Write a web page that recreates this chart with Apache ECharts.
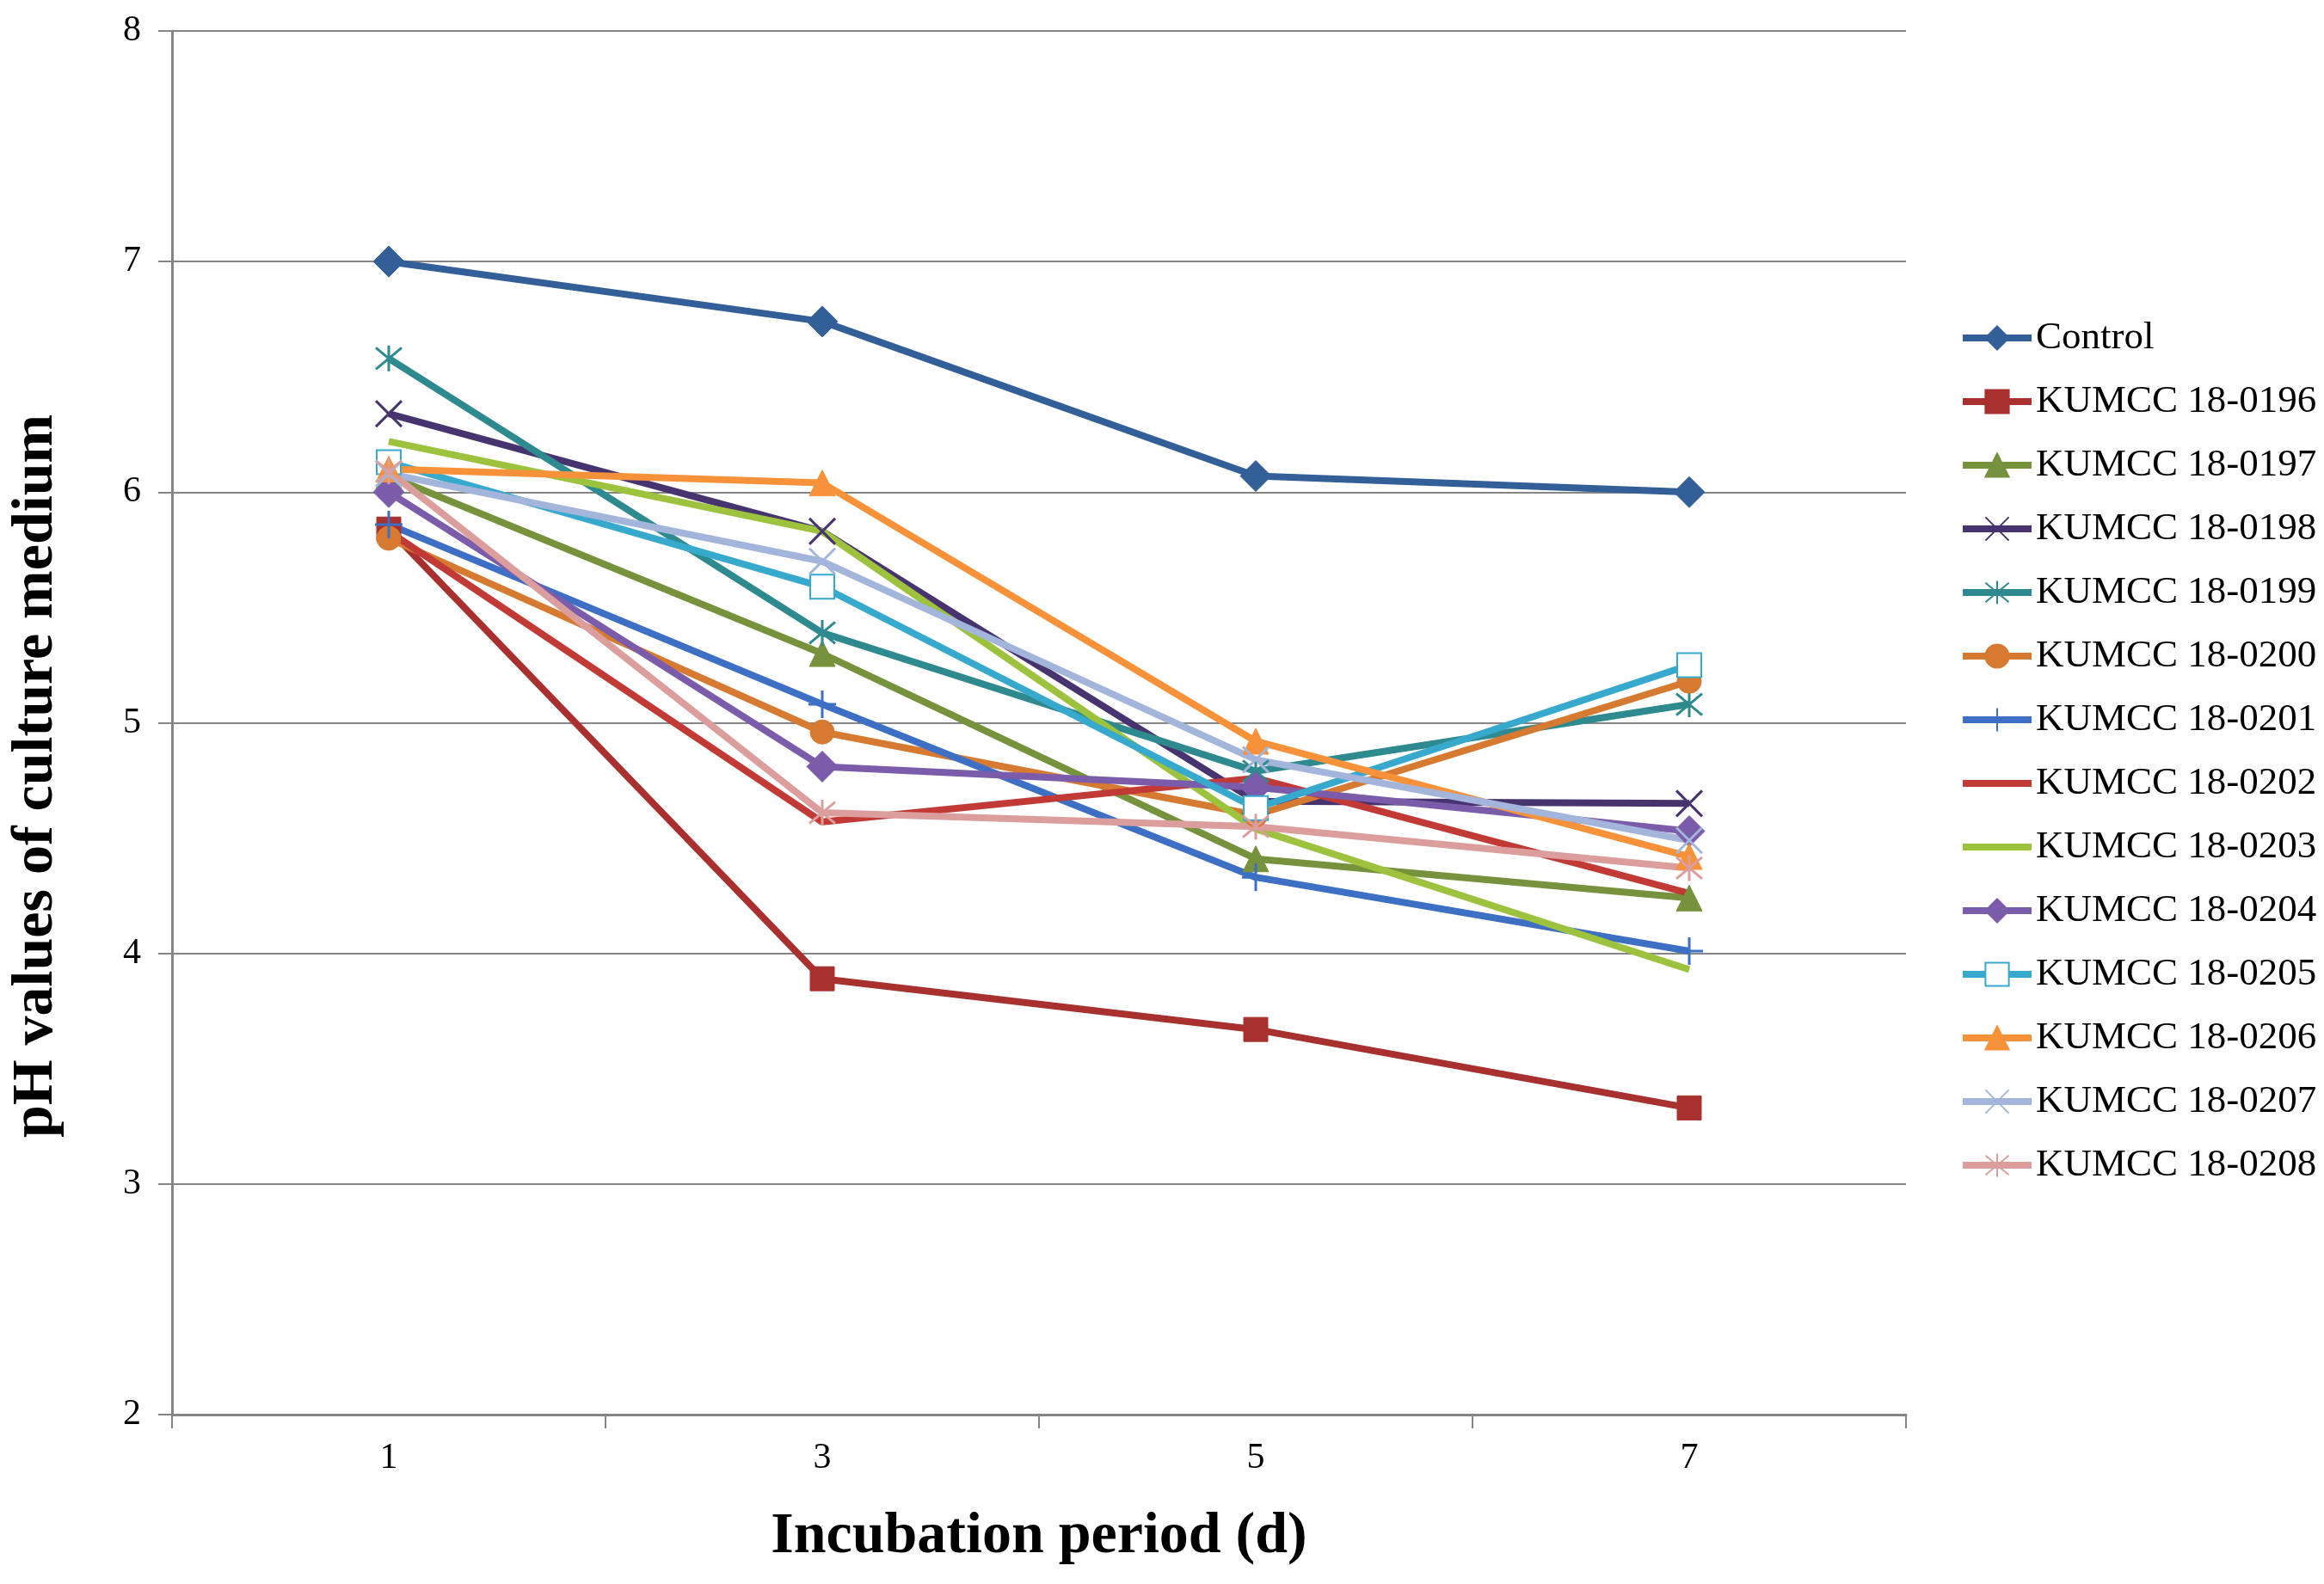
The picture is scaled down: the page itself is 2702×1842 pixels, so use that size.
<!DOCTYPE html>
<html>
<head>
<meta charset="utf-8">
<title>pH values of culture medium</title>
<script src="https://cdn.jsdelivr.net/npm/echarts@6/dist/echarts.min.js"></script>
<style>
  html, body { margin: 0; padding: 0; background: #fff; }
  #chart { width: 2702px; height: 1842px; }
</style>
</head>
<body>
<div id="chart"></div>
<script>
// x categories (incubation day)
var days = ['1', '3', '5', '7'];

// pH readings per strain
var control = [7.00, 6.74, 6.07, 6.00];
var k0196 = [5.84, 3.89, 3.67, 3.33];
var k0197 = [6.07, 5.30, 4.41, 4.24];
var k0198 = [6.34, 5.83, 4.66, 4.65];
var k0199 = [6.58, 5.39, 4.79, 5.08];
var k0200 = [5.80, 4.96, 4.60, 5.18];
var k0201 = [5.86, 5.08, 4.33, 4.01];
var k0202 = [5.83, 4.57, 4.76, 4.26];
var k0203 = [6.22, 5.83, 4.54, 3.93];
var k0204 = [6.00, 4.81, 4.72, 4.53];
var k0205 = [6.13, 5.59, 4.63, 5.25];
var k0206 = [6.10, 6.04, 4.92, 4.42];
var k0207 = [6.08, 5.70, 4.84, 4.49];
var k0208 = [6.09, 4.61, 4.55, 4.37];

// marker shapes drawn as strokes
var xMark = 'path://M0,0L10,10M10,0L0,10';
var starMark = 'path://M0,0L10,10M10,0L0,10M5,-1L5,11';
var plusMark = 'path://M5,0L5,10M0,5L10,5';
// invisible marker, so the legend shows only a line
var noMark = 'rect';

var serif = 'Liberation Serif';

function line(name, data, color, symbol, size, stroke, hidden) {
    return {
        name: name,
        type: 'line',
        data: data,
        symbol: symbol,
        symbolSize: size,
        showSymbol: !hidden,
        lineStyle: { color: color, width: 8 },
        itemStyle: {
            color: (stroke || hidden) ? 'rgba(0,0,0,0)' : color,
            borderColor: hidden ? 'rgba(0,0,0,0)' : color,
            borderWidth: stroke ? 3 : (hidden ? 0 : 1)
        },
        emphasis: { disabled: true },
        animation: false
    };
}

var seriesList = [
    line('Control', control, '#335F99', 'diamond', 36),
    line('KUMCC 18-0196', k0196, '#A8302F', 'rect', 28),
    line('KUMCC 18-0197', k0197, '#76923C', 'triangle', 30),
    line('KUMCC 18-0198', k0198, '#47336E', xMark, 30, true),
    line('KUMCC 18-0199', k0199, '#2E8A8E', starMark, 30, true),
    line('KUMCC 18-0200', k0200, '#D77A31', 'circle', 28),
    line('KUMCC 18-0201', k0201, '#3D6FC4', plusMark, 32, true),
    line('KUMCC 18-0202', k0202, '#C23A36', noMark, 10, false, true),
    line('KUMCC 18-0203', k0203, '#9CC23E', noMark, 10, false, true),
    line('KUMCC 18-0204', k0204, '#7B5CAB', 'diamond', 36),
    line('KUMCC 18-0205', k0205, '#37A9CC', 'emptyRect', 28),
    line('KUMCC 18-0206', k0206, '#F7923A', 'triangle', 30),
    line('KUMCC 18-0207', k0207, '#A3B5DA', xMark, 30, true),
    line('KUMCC 18-0208', k0208, '#DB9E9C', starMark, 30, true)
];
// hollow square keeps its own colour for the outline
seriesList[10].itemStyle = { color: '#37A9CC', borderWidth: 3 };

var myChart = echarts.init(document.getElementById('chart'));
myChart.setOption({
    backgroundColor: '#fff',
    animation: false,
    grid: { left: 196, right: 486, top: 36, bottom: 197 },
    legend: {
        orient: 'vertical',
        left: 2273,
        top: 363,
        itemWidth: 80,
        itemHeight: 34,
        itemGap: 24,
        lineStyle: { width: 8 },
        textStyle: { fontFamily: serif, fontSize: 45, color: '#000', lineHeight: 50 },
        data: seriesList.map(function (s) { return s.name; })
    },
    xAxis: {
        type: 'category',
        data: days,
        boundaryGap: true,
        name: 'Incubation period (d)',
        nameLocation: 'middle',
        nameGap: 108,
        nameTextStyle: { fontFamily: serif, fontSize: 68, fontWeight: 'bold', color: '#000' },
        axisLine: { lineStyle: { color: '#858585', width: 3 } },
        axisTick: { show: true, alignWithLabel: false, length: 16, lineStyle: { color: '#858585', width: 2 } },
        axisLabel: { fontFamily: serif, fontSize: 42, color: '#000', margin: 30 },
        splitLine: { show: false }
    },
    yAxis: {
        type: 'value',
        min: 2,
        max: 8,
        interval: 1,
        name: 'pH values of culture medium',
        nameLocation: 'middle',
        nameGap: 124,
        nameTextStyle: {
            fontFamily: serif, fontSize: 68, fontWeight: 'bold', color: '#000',
            padding: [0, 124, 0, 0]
        },
        axisLine: { show: true, lineStyle: { color: '#858585', width: 3 } },
        axisTick: { show: true, length: 16, lineStyle: { color: '#858585', width: 2 } },
        axisLabel: { fontFamily: serif, fontSize: 42, color: '#000', margin: 36 },
        splitLine: { show: true, lineStyle: { color: '#858585', width: 2 } }
    },
    series: seriesList
});
</script>
</body>
</html>
